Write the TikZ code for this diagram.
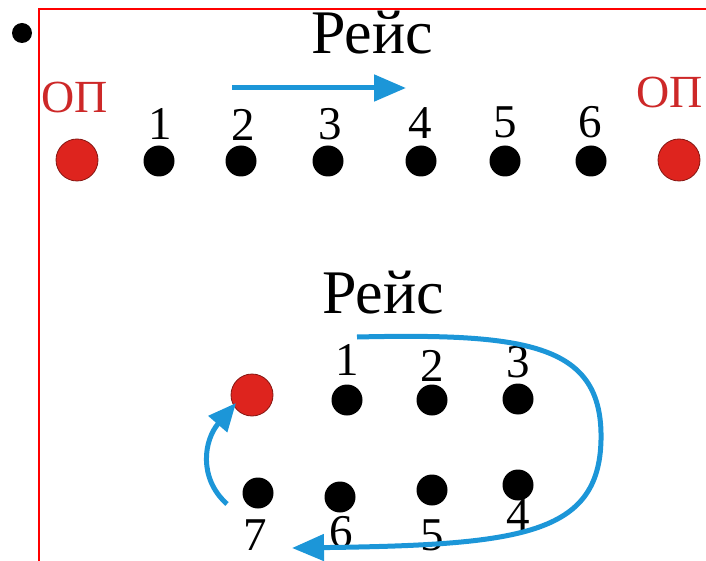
\documentclass[tikz,border=0pt]{standalone}
\usepackage{fontspec}
\setmainfont{Liberation Serif}
\usetikzlibrary{arrows.meta}
\definecolor{routeblue}{RGB}{28,150,216}
\definecolor{dotred}{RGB}{222,36,30}
\definecolor{txtred}{RGB}{205,40,40}
\definecolor{frame}{RGB}{255,0,0}
\tikzset{
  stopdot/.style={circle,fill=black,inner sep=0pt,minimum size=31pt},
  termdot/.style={circle,fill=dotred,draw=dotred!60!black,line width=0.8pt,inner sep=0pt,minimum size=42pt},
  numlbl/.style={anchor=base,inner sep=0pt,font=\fontsize{47}{47}\selectfont},
  titlelbl/.style={anchor=base,inner sep=0pt,font=\fontsize{62}{62}\selectfont},
  oplbl/.style={anchor=base,inner sep=0pt,text=txtred,font=\fontsize{46}{46}\selectfont},
  route/.style={draw=routeblue,line width=5pt,-{Triangle[length=32pt,width=26pt]}}
}
\begin{document}
\begin{tikzpicture}[x=1pt,y=-1pt]
\useasboundingbox (0,0) rectangle (706,561);
\clip (0,0) rectangle (706,561);
% bullet
\node[circle,fill=black,inner sep=0pt,minimum size=20pt] (bullet) at (22,33) {};
% top scheme
\node[titlelbl] (t1) at (372,54) {Рейс};
\node[oplbl] (opl) at (75,113) {ОП};
\node[oplbl, anchor=base west] (opr) at (636,108) {ОП};
\node[termdot] (a0) at (77,160) {};
\node[termdot] (a7) at (679,160) {};
\node[stopdot] (a1) at (159,161) {};
\node[stopdot] (a2) at (241,161) {};
\node[stopdot] (a3) at (328,161) {};
\node[stopdot] (a4) at (421,161) {};
\node[stopdot] (a5) at (505,161) {};
\node[stopdot] (a6) at (591,161) {};
\node[numlbl] (n1) at (160,140) {1};
\node[numlbl] (n2) at (243,141) {2};
\node[numlbl] (n3) at (330,140) {3};
\node[numlbl] (n4) at (420,139) {4};
\node[numlbl] (n5) at (505,138) {5};
\node[numlbl] (n6) at (590,138) {6};
\coordinate (ta) at (232,88);
\coordinate (tb) at (406,88);
\draw[route] (ta) -- (tb);
% bottom scheme
\node[titlelbl] (t2) at (383,313) {Рейс};
\node[termdot] (b0) at (252,395) {};
\node[stopdot] (b1) at (347,400) {};
\node[stopdot] (b2) at (432,400) {};
\node[stopdot] (b3) at (518,399) {};
\node[stopdot] (b4) at (518,485) {};
\node[stopdot] (b5) at (432,490) {};
\node[stopdot] (b6) at (340,497) {};
\node[stopdot] (b7) at (258,493) {};
\node[numlbl] (m1) at (347,375) {1};
\node[numlbl] (m2) at (432,381) {2};
\node[numlbl] (m3) at (518,377) {3};
\node[numlbl] (m4) at (518,530) {4};
\node[numlbl] (m5) at (432,550) {5};
\node[numlbl] (m6) at (341,547) {6};
\node[numlbl] (m7) at (255,550) {7};
\coordinate (ca) at (357,337);
\coordinate (cb) at (601,440);
\coordinate (cc) at (292,548);
\draw[route] (ca) .. controls (530,333) and (603,345) .. (cb)
  .. controls (599,535) and (520,545) .. (cc);
\coordinate (sa) at (227,504);
\coordinate (sb) at (236,403);
\draw[route,-{Triangle[length=28pt,width=24pt]}] (sa) .. controls (198,478) and (204,440) .. (sb);
% frame
\draw[frame,line width=2.5pt] (39,600) -- (39,9) -- (720,9);
\end{tikzpicture}
\end{document}
